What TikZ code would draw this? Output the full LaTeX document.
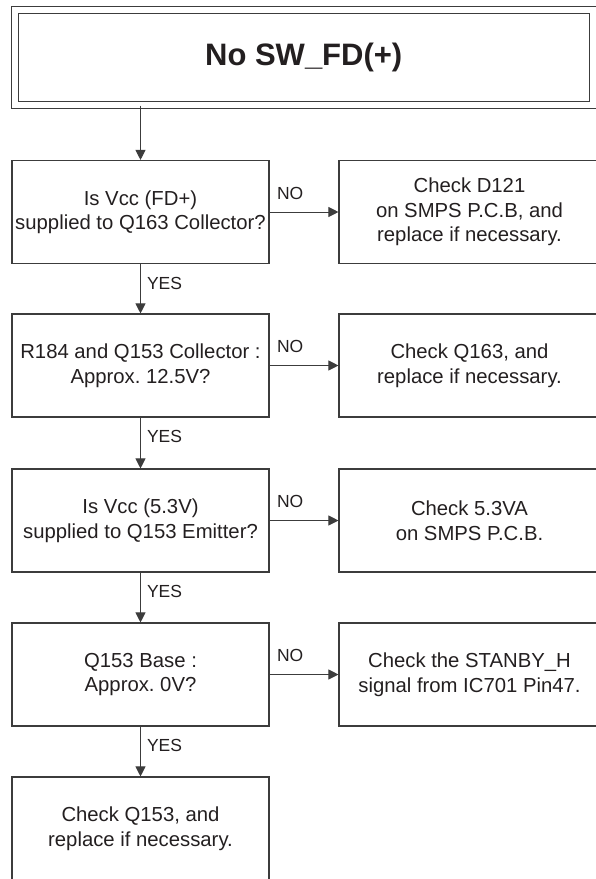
\documentclass[tikz,border=0pt]{standalone}
\usepackage{fontspec}
\setmainfont{Liberation Sans}
\frenchspacing
\definecolor{fcline}{RGB}{60,60,60}
\definecolor{fctext}{RGB}{35,31,32}
\usetikzlibrary{arrows.meta,positioning}

\begin{document}
\begin{tikzpicture}[x=1pt, y=-1pt,
  qbox/.style={draw=fcline, line width=1.1pt, minimum width=257pt, minimum height=103pt,
    inner sep=0pt, align=center, text=fctext,
    font=\fontsize{20.3}{24.5}\selectfont},
  abox/.style={qbox, minimum width=261pt},
  flow/.style={-{Triangle[length=10pt,width=10pt]}, fcline, line width=1pt},
  tag/.style={font=\fontsize{17.5}{20}\selectfont, text=fctext, inner sep=0pt, anchor=west}]

\useasboundingbox (0,0) rectangle (595,879);

% Title
\node[draw=fcline, line width=1pt, double, double distance=6pt,
  minimum width=578.5pt, minimum height=95.5pt, text=fctext,
  font=\fontsize{31}{36}\selectfont\bfseries] (title) at (303.75,57.25) {No SW\_FD(+)};

% Checks on the left
\node[qbox] (q1) at (140.5,212) {Is Vcc (FD+)\\supplied to Q163 Collector?};
\node[qbox] (q2) at (140.5,365.5) {R184 and Q153 Collector :\\Approx. 12.5V?};
\node[qbox] (q3) at (140.5,520.5) {Is Vcc (5.3V)\\supplied to Q153 Emitter?};
\node[qbox] (q4) at (140.5,674.5) {Q153 Base :\\Approx. 0V?};
\node[qbox] (q5) at (140.5,828.5) {Check Q153, and\\replace if necessary.};

% Actions on the right
\node[abox] (r1) at (469.5,212) {Check D121\\on SMPS P.C.B, and\\replace if necessary.};
\node[abox] (r2) at (469.5,365.5) {Check Q163, and\\replace if necessary.};
\node[abox] (r3) at (469.5,520.5) {Check 5.3VA\\on SMPS P.C.B.};
\node[abox] (r4) at (469.5,674.5) {Check the STANBY\_H\\signal from IC701 Pin47.};

% Main flow
\draw[flow] (q1.north |- title.south) -- (q1.north);
\draw[flow] (q1.south) -- node[tag, pos=0, xshift=6pt, yshift=-19pt] (yes1) {YES} (q2.north);
\draw[flow] (q2.south) -- node[tag, pos=0, xshift=6pt, yshift=-19pt] (yes2) {YES} (q3.north);
\draw[flow] (q3.south) -- node[tag, pos=0, xshift=6pt, yshift=-19pt] (yes3) {YES} (q4.north);
\draw[flow] (q4.south) -- node[tag, pos=0, xshift=6pt, yshift=-19pt] (yes4) {YES} (q5.north);

% NO branches
\draw[flow] (q1.east) -- node[tag, pos=0, xshift=7pt, yshift=19pt] (no1) {NO} (r1.west);
\draw[flow] (q2.east) -- node[tag, pos=0, xshift=7pt, yshift=19pt] (no2) {NO} (r2.west);
\draw[flow] (q3.east) -- node[tag, pos=0, xshift=7pt, yshift=19pt] (no3) {NO} (r3.west);
\draw[flow] (q4.east) -- node[tag, pos=0, xshift=7pt, yshift=19pt] (no4) {NO} (r4.west);

\end{tikzpicture}
\end{document}
